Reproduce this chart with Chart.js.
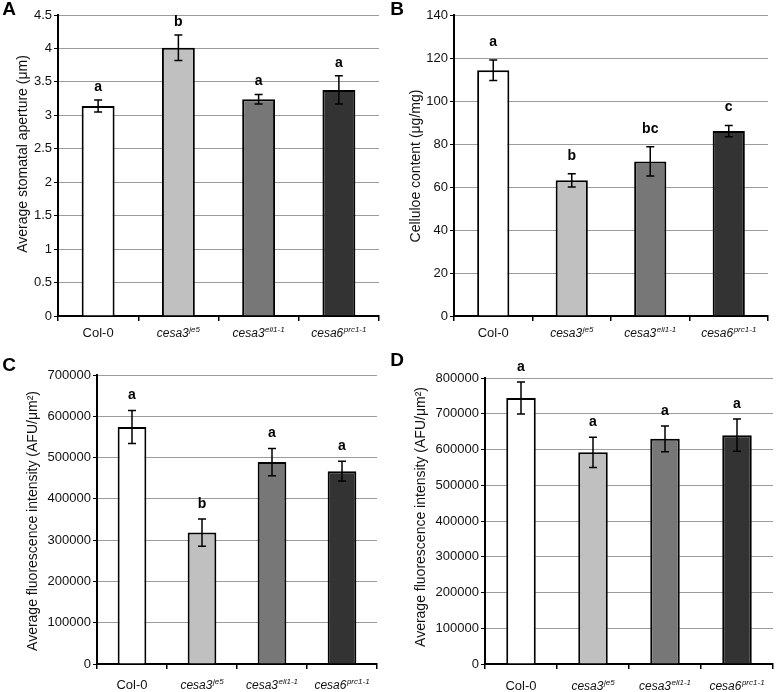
<!DOCTYPE html>
<html>
<head>
<meta charset="utf-8">
<script src="https://cdn.jsdelivr.net/npm/chart.js@4/dist/chart.umd.min.js"></script>
<style>
html,body{margin:0;padding:0;background:#fff;}
#wrap{position:relative;width:776px;height:692px;overflow:hidden;background:#fff;}
.p{position:absolute;}
</style>
</head>
<body>
<div id="wrap">
  <div class="p" style="left:0;top:0;width:388px;height:340px"><canvas id="cA"></canvas></div>
  <div class="p" style="left:388px;top:0;width:388px;height:340px"><canvas id="cB"></canvas></div>
  <div class="p" style="left:0;top:340px;width:388px;height:352px"><canvas id="cC"></canvas></div>
  <div class="p" style="left:388px;top:340px;width:388px;height:352px"><canvas id="cD"></canvas></div>
</div>
<script>
// ---- data ----
const categoryBase = ['Col-0', 'cesa3', 'cesa3', 'cesa6'];
const categorySup  = ['', 'je5', 'eli1-1', 'prc1-1'];
const barColors    = ['#ffffff', '#c0c0c0', '#777777', '#333333'];

const apertureMean    = [3.14, 4.01, 3.24, 3.38];
const apertureErr     = [0.09, 0.19, 0.07, 0.21];
const apertureLetters = ['a', 'b', 'a', 'a'];

const celluloseMean    = [114.3, 63.1, 71.9, 86.0];
const celluloseErr     = [4.8, 3.1, 6.8, 2.6];
const celluloseLetters = ['a', 'b', 'bc', 'c'];

const fluorCMean    = [574000, 318500, 489000, 467000];
const fluorCErr     = [40000, 33000, 33000, 24000];
const fluorCLetters = ['a', 'b', 'a', 'a'];

const fluorDMean    = [744000, 592000, 630000, 640000];
const fluorDErr     = [45000, 42000, 36000, 45000];
const fluorDLetters = ['a', 'a', 'a', 'a'];

const FONT = '"Liberation Sans", Arial, Helvetica, sans-serif';
Chart.defaults.font.family = FONT;
Chart.defaults.color = '#111';

const decor = {
  id: 'decor',
  afterDatasetsDraw(chart, args, o) {
    const ctx = chart.ctx, meta = chart.getDatasetMeta(0), ys = chart.scales.y;
    const data = chart.data.datasets[0].data;
    ctx.save();
    meta.data.forEach((bar, i) => {
      const m = data[i], e = o.err[i];
      const yt = ys.getPixelForValue(m + e), yb = ys.getPixelForValue(m - e);
      ctx.strokeStyle = '#000';
      ctx.lineWidth = 1.5;
      ctx.beginPath();
      ctx.moveTo(bar.x, yt); ctx.lineTo(bar.x, yb);
      ctx.moveTo(bar.x - 4, yt); ctx.lineTo(bar.x + 4, yt);
      ctx.moveTo(bar.x - 4, yb); ctx.lineTo(bar.x + 4, yb);
      ctx.stroke();
      ctx.fillStyle = '#000';
      ctx.font = 'bold 14px ' + FONT;
      ctx.textAlign = 'center';
      ctx.textBaseline = 'middle';
      ctx.fillText(o.letters[i], bar.x, yt - o.letterGap);
    });
    ctx.restore();
  },
  afterDraw(chart, args, o) {
    const ctx = chart.ctx, xs = chart.scales.x, area = chart.chartArea;
    ctx.save();
    ctx.fillStyle = '#111';
    ctx.textBaseline = 'alphabetic';
    ctx.textAlign = 'left';
    const baseY = area.bottom + o.labelOffset;
    chart.data.labels.forEach((lab, i) => {
      const cx = xs.getPixelForValue(i);
      const baseFont = categorySup[i] ? 'italic 12px ' + FONT : '13px ' + FONT;
      const supFont = 'italic 8px ' + FONT;
      ctx.font = baseFont;
      const wb = ctx.measureText(categoryBase[i]).width;
      ctx.font = supFont;
      const ws = categorySup[i] ? ctx.measureText(categorySup[i]).width + 0.5 : 0;
      const x0 = cx - (wb + ws) / 2;
      ctx.font = baseFont;
      ctx.fillText(categoryBase[i], x0, baseY);
      if (categorySup[i]) {
        ctx.font = supFont;
        ctx.fillText(categorySup[i], x0 + wb + 0.5, baseY - 5);
      }
    });
    // y-axis title
    ctx.save();
    ctx.translate(o.titleX, o.titleY);
    ctx.rotate(-Math.PI / 2);
    ctx.textAlign = 'center';
    ctx.textBaseline = 'middle';
    ctx.font = '14px ' + FONT;
    ctx.fillText(o.title, 0, 0);
    ctx.restore();
    // panel letter
    ctx.fillStyle = '#000';
    ctx.textAlign = 'center';
    ctx.textBaseline = 'middle';
    ctx.font = 'bold 19px ' + FONT;
    ctx.fillText(o.panel, o.panelX, o.panelY);
    ctx.restore();
  }
};
Chart.register(decor);

function makeChart(id, mean, err, letters, yMax, yStep, p) {
  const labels = categoryBase.map((b, i) => b + categorySup[i]);
  return new Chart(document.getElementById(id), {
    type: 'bar',
    data: {
      labels: labels,
      datasets: [{
        data: mean,
        backgroundColor: barColors,
        borderColor: '#000',
        borderWidth: 2,
        borderSkipped: 'bottom',
        categoryPercentage: 1,
        barPercentage: 0.41
      }]
    },
    options: {
      responsive: true,
      maintainAspectRatio: false,
      animation: false,
      events: [],
      layout: { padding: { left: 0, top: p.top, right: p.right, bottom: 0 } },
      plugins: {
        legend: { display: false },
        tooltip: { enabled: false },
        decor: {
          err: err, letters: letters, letterGap: p.letterGap,
          labelOffset: p.labelOffset, title: p.title, titleX: p.titleX, titleY: p.titleY,
          panel: p.panel, panelX: p.panelX, panelY: p.panelY
        }
      },
      scales: {
        x: {
          type: 'category',
          offset: true,
          grid: { display: true, drawOnChartArea: false, drawTicks: true, tickLength: 5, tickColor: '#000', lineWidth: 1.5, offset: true },
          border: { display: true, color: '#000', width: 2 },
          ticks: { display: false },
          afterFit(s) { s.height = p.xHeight; }
        },
        y: {
          min: 0, max: yMax,
          grid: {
            color: (c) => (c.tick && c.tick.value === 0) ? 'rgba(0,0,0,0)' : '#9c9c9c',
            lineWidth: 1, drawTicks: true, tickLength: 4, tickColor: '#000'
          },
          border: { display: true, color: '#000', width: 2 },
          ticks: {
            stepSize: yStep, padding: 2, color: '#111',
            font: { size: 13, family: FONT },
            callback: (v) => String(Math.round(v * 1000) / 1000)
          },
          afterFit(s) { s.width = p.yWidth; }
        }
      }
    }
  });
}

makeChart('cA', apertureMean, apertureErr, apertureLetters, 4.5, 0.5, {
  top: 15, right: 9, yWidth: 58, xHeight: 24, letterGap: 13, labelOffset: 21,
  title: 'Average stomatal aperture (μm)', titleX: 23, titleY: 154,
  panel: 'A', panelX: 9, panelY: 10
});
makeChart('cB', celluloseMean, celluloseErr, celluloseLetters, 140, 20, {
  top: 15, right: 8, yWidth: 66, xHeight: 24, letterGap: 18, labelOffset: 21,
  title: 'Celluloe content (μg/mg)', titleX: 28, titleY: 166,
  panel: 'B', panelX: 9, panelY: 10
});
makeChart('cC', fluorCMean, fluorCErr, fluorCLetters, 700000, 100000, {
  top: 35, right: 11, yWidth: 97, xHeight: 28, letterGap: 15, labelOffset: 25,
  title: 'Average fluorescence intensity (AFU/μm²)', titleX: 33, titleY: 181,
  panel: 'C', panelX: 9, panelY: 26
});
makeChart('cD', fluorDMean, fluorDErr, fluorDLetters, 800000, 100000, {
  top: 38, right: 3, yWidth: 97, xHeight: 28, letterGap: 15, labelOffset: 26,
  title: 'Average fluorescence intensity (AFU/μm²)', titleX: 33, titleY: 177,
  panel: 'D', panelX: 9, panelY: 21
});
</script>
</body>
</html>
